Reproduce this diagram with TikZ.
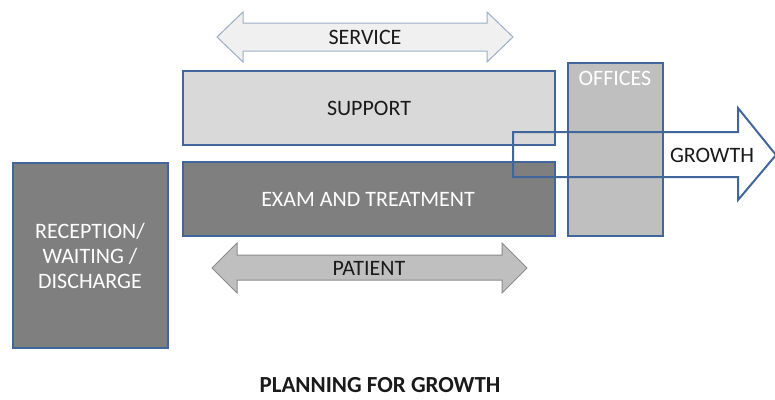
\documentclass[tikz,border=0pt]{standalone}
\usepackage{fontspec}
\setmainfont{Carlito}
\definecolor{bord}{HTML}{41669B}
\definecolor{lite}{HTML}{D9D9D9}
\definecolor{dark}{HTML}{7F7F7F}
\definecolor{mid}{HTML}{BFBFBF}
\definecolor{svfill}{HTML}{F0F0F0}
\definecolor{svline}{HTML}{9AAEC6}
\definecolor{ptline}{HTML}{8C8C8C}
\definecolor{txt}{HTML}{1A1A1A}
\begin{document}
\begin{tikzpicture}[x=1pt,y=-1pt,
  box/.style={draw=bord,line width=2pt,inner sep=0pt},
  lbl/.style={font=\fontsize{22}{25}\selectfont,text=txt},
  wlbl/.style={font=\fontsize{22}{25}\selectfont,text=white,align=center}]
\useasboundingbox (0,0) rectangle (775,399);
% SERVICE arrow
\draw[fill=svfill,draw=svline,line width=1pt]
  (217,37) -- (243,12) -- (243,23) -- (487,23) -- (487,12) -- (513,37)
  -- (487,62) -- (487,51) -- (243,51) -- (243,62) -- cycle;
\node[lbl] (service) at (365,37) {SERVICE};
% boxes
\draw[box,fill=lite] (183,71) rectangle (555,145);
\node[lbl] (support) at (369,108) {SUPPORT};
\draw[box,fill=dark] (183,162) rectangle (555,236);
\node[wlbl] (exam) at (368,199) {EXAM AND TREATMENT};
\draw[box,fill=mid] (568,63) rectangle (663,236);
\node[wlbl] (offices) at (615,78) {OFFICES};
\draw[box,fill=dark] (13,163) rectangle (168,348);
\node[wlbl] (reception) at (90,256) {RECEPTION/\\WAITING /\\DISCHARGE};
% PATIENT arrow
\draw[fill=mid,draw=ptline,line width=1pt]
  (212,268) -- (237,243) -- (237,255) -- (502,255) -- (502,243) -- (527,268)
  -- (502,293) -- (502,280) -- (237,280) -- (237,293) -- cycle;
\node[lbl] (patient) at (369,268) {PATIENT};
% GROWTH arrow
\draw[draw=bord,line width=2pt,line join=miter]
  (513,132) -- (738,132) -- (738,108) -- (776,155) -- (738,200) -- (738,177)
  -- (513,177) -- cycle;
\node[lbl] (growth) at (712,155) {GROWTH};
% title
\node[font=\fontsize{23}{27}\selectfont\bfseries,text=txt] (title) at (380,385) {PLANNING FOR GROWTH};
\end{tikzpicture}
\end{document}
